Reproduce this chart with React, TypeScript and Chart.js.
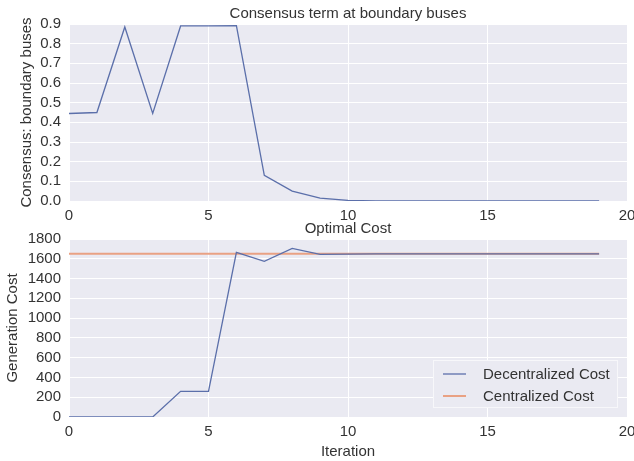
import React, { useEffect, useRef } from "react";
import { Chart, registerables } from "chart.js";
Chart.register(...registerables);

const iterations = [0, 1, 2, 3, 4, 5, 6, 7, 8, 9, 10, 11, 12, 13, 14, 15, 16, 17, 18, 19];
const consensus = [0.445, 0.45, 0.885, 0.445, 0.89, 0.89, 0.892, 0.13, 0.05, 0.015, 0.003, 0.001, 0, 0, 0, 0, 0, 0, 0, 0];
const decentralizedCost = [0, 0, 0, 0, 260, 260, 1665, 1575, 1705, 1645, 1648, 1650, 1650, 1650, 1650, 1650, 1650, 1650, 1650, 1650];
const centralizedCost = [1650, 1650, 1650, 1650, 1650, 1650, 1650, 1650, 1650, 1650, 1650, 1650, 1650, 1650, 1650, 1650, 1650, 1650, 1650, 1650];

const topTitle = "Consensus term at boundary buses";
const bottomTitle = "Optimal Cost";
const topYLabel = "Consensus: boundary buses";
const bottomYLabel = "Generation Cost";
const xLabel = "Iteration";
const seriesLabels = ["Decentralized Cost", "Centralized Cost"];

const FONT = "'Liberation Sans', Arial, sans-serif";
const TEXT = "#333333";
const BG = "#EAEAF2";
const BLUE = "#5B6FAA";
const ORANGE = "#E9A183";

const bgPlugin = {
  id: "bgPlugin",
  beforeDraw(chart: any) {
    const { ctx, chartArea } = chart;
    ctx.save();
    ctx.fillStyle = BG;
    ctx.fillRect(chartArea.left, chartArea.top, chartArea.right - chartArea.left, chartArea.bottom - chartArea.top);
    ctx.restore();
  },
};

const titlePlugin = {
  id: "titlePlugin",
  afterDraw(chart: any, _args: any, opts: any) {
    const { ctx, chartArea } = chart;
    ctx.save();
    ctx.font = `15px ${FONT}`;
    ctx.fillStyle = TEXT;
    ctx.textAlign = "center";
    ctx.textBaseline = "middle";
    ctx.fillText(opts.text, (chartArea.left + chartArea.right) / 2, 14);
    ctx.restore();
  },
};

const legendPlugin = {
  id: "innerLegend",
  afterDraw(chart: any, _args: any, opts: any) {
    if (!opts || !opts.show) return;
    const { ctx, chartArea } = chart;
    const boxW = 185;
    const boxH = 48;
    const right = chartArea.right - 9;
    const bottom = chartArea.bottom - 9;
    const left = right - boxW;
    const top = bottom - boxH;
    ctx.save();
    ctx.fillStyle = BG;
    ctx.fillRect(left, top, boxW, boxH);
    ctx.strokeStyle = "rgba(255,255,255,0.6)";
    ctx.lineWidth = 1;
    ctx.strokeRect(left + 0.5, top + 0.5, boxW - 1, boxH - 1);
    ctx.font = `15px ${FONT}`;
    ctx.textBaseline = "middle";
    ctx.textAlign = "left";
    chart.data.datasets.forEach((ds: any, i: number) => {
      const y = top + 14 + i * 22;
      ctx.strokeStyle = ds.borderColor;
      ctx.lineWidth = ds.borderWidth;
      ctx.beginPath();
      ctx.moveTo(left + 10, y);
      ctx.lineTo(left + 33, y);
      ctx.stroke();
      ctx.fillStyle = TEXT;
      ctx.fillText(ds.label, left + 50, y + 1);
    });
    ctx.restore();
  },
};

function makeOptions(opts: {
  yMax: number;
  yStep: number;
  yLabel: string;
  yTitlePad: number;
  xAxisHeight: number;
  showXTitle: boolean;
  title: string;
  decimals: number;
  legend: boolean;
}): any {
  return {
    responsive: false,
    animation: false,
    layout: { padding: { top: 24, right: 33, left: 0, bottom: 0 } },
    plugins: {
      legend: { display: false },
      tooltip: { enabled: false },
      titlePlugin: { text: opts.title },
      innerLegend: { show: opts.legend },
    },
    elements: { point: { radius: 0 }, line: { tension: 0 } },
    scales: {
      x: {
        type: "linear",
        min: 0,
        max: 20,
        ticks: {
          stepSize: 5,
          autoSkip: false,
          color: TEXT,
          font: { family: FONT, size: 15 },
          padding: 6,
          maxRotation: 0,
        },
        grid: { color: "#FFFFFF", lineWidth: 1, drawTicks: false },
        border: { display: false },
        title: {
          display: opts.showXTitle,
          text: xLabel,
          color: TEXT,
          font: { family: FONT, size: 15 },
          padding: { top: 0, bottom: 0 },
        },
        afterFit(scale: any) {
          scale.height = opts.xAxisHeight;
        },
      },
      y: {
        min: 0,
        max: opts.yMax,
        ticks: {
          stepSize: opts.yStep,
          autoSkip: false,
          color: TEXT,
          font: { family: FONT, size: 15 },
          padding: 8,
          callback: (v: any) => Number(v).toFixed(opts.decimals),
        },
        grid: { color: "#FFFFFF", lineWidth: 1, drawTicks: false },
        border: { display: false },
        title: {
          display: true,
          text: opts.yLabel,
          color: TEXT,
          font: { family: FONT, size: 15 },
          padding: { top: opts.yTitlePad, bottom: 0 },
        },
        afterFit(scale: any) {
          scale.width = 69;
        },
      },
    },
  };
}

export default function App() {
  const topRef = useRef<HTMLCanvasElement>(null);
  const bottomRef = useRef<HTMLCanvasElement>(null);

  useEffect(() => {
    const top = new Chart(topRef.current as HTMLCanvasElement, {
      type: "line",
      data: {
        datasets: [
          {
            label: topYLabel,
            data: iterations.map((x, i) => ({ x, y: consensus[i] })),
            borderColor: BLUE,
            borderWidth: 1.3,
            fill: false,
          },
        ],
      },
      options: makeOptions({
        yMax: 0.9,
        yStep: 0.1,
        yLabel: topYLabel,
        yTitlePad: 18,
        xAxisHeight: 24,
        showXTitle: false,
        title: topTitle,
        decimals: 1,
        legend: false,
      }),
      plugins: [bgPlugin, titlePlugin, legendPlugin],
    } as any);

    const bottom = new Chart(bottomRef.current as HTMLCanvasElement, {
      type: "line",
      data: {
        datasets: [
          {
            label: seriesLabels[0],
            data: iterations.map((x, i) => ({ x, y: decentralizedCost[i] })),
            borderColor: BLUE,
            borderWidth: 1.3,
            fill: false,
          },
          {
            label: seriesLabels[1],
            data: iterations.map((x, i) => ({ x, y: centralizedCost[i] })),
            borderColor: ORANGE,
            borderWidth: 2,
            fill: false,
          },
        ],
      },
      options: makeOptions({
        yMax: 1800,
        yStep: 200,
        yLabel: bottomYLabel,
        yTitlePad: 4,
        xAxisHeight: 44,
        showXTitle: true,
        title: bottomTitle,
        decimals: 0,
        legend: true,
      }),
      plugins: [bgPlugin, titlePlugin, legendPlugin],
    } as any);

    return () => {
      top.destroy();
      bottom.destroy();
    };
  }, []);

  return (
    <div
      style={{
        position: "absolute",
        left: 0,
        top: 0,
        width: 634,
        height: 461,
        overflow: "hidden",
        background: "#FFFFFF",
      }}
    >
      <canvas ref={topRef} width={660} height={225} style={{ position: "absolute", left: 0, top: 0 }} />
      <canvas ref={bottomRef} width={660} height={246} style={{ position: "absolute", left: 0, top: 215 }} />
    </div>
  );
}
